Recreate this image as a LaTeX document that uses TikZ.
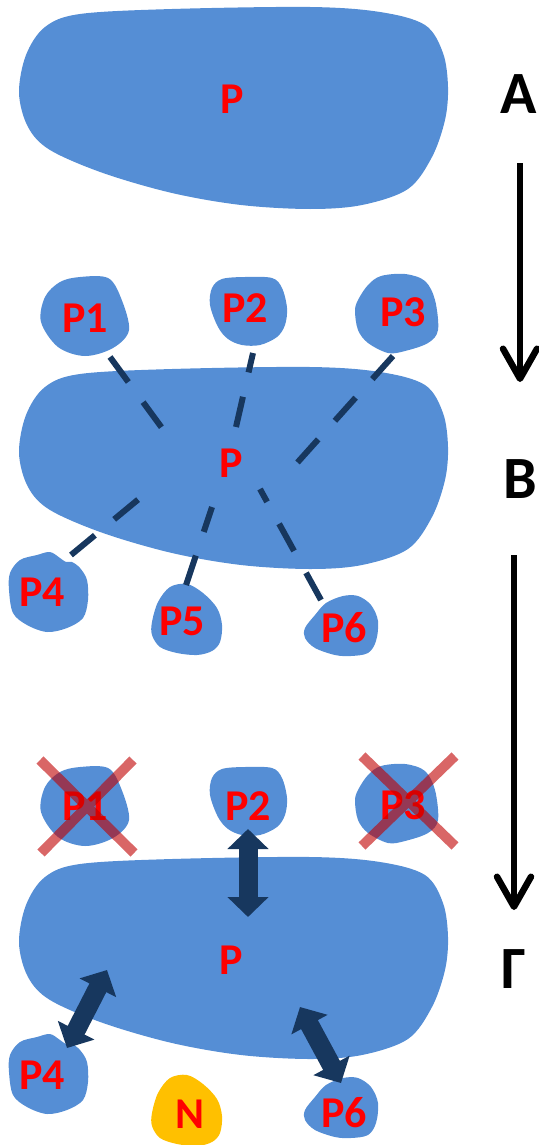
\documentclass[tikz,border=0pt]{standalone}
\usepackage{fontspec}
\setmainfont{Carlito}
\usetikzlibrary{arrows.meta}

\definecolor{blobblue}{RGB}{85,142,213}
\definecolor{navy}{RGB}{23,55,94}
\definecolor{amber}{RGB}{255,192,0}
\definecolor{labelred}{RGB}{255,0,0}
\definecolor{crossred}{RGB}{192,0,0}

\tikzset{
  blobfill/.style={fill=blobblue},
  smoothblob/.style={smooth cycle, tension=0.55},
  lbl/.style={text=labelred, font=\bfseries\fontsize{44}{44}\selectfont, inner sep=0pt},
  stagelbl/.style={text=black, font=\bfseries\fontsize{60}{60}\selectfont, inner sep=0pt},
  stagearrow/.style={line width=6.5pt, -{Straight Barb[length=30pt,width=34pt,round]}},
  link/.style={draw=navy, line width=6pt, dash pattern=on 31pt off 25pt},
  bond/.style={draw=navy, line width=19pt,
    {Triangle[length=20pt,width=40pt]}-{Triangle[length=20pt,width=40pt]}},
  xmark/.style={draw=crossred, draw opacity=0.6, line width=10pt},
  % cell body
  bigblob/.pic={\fill[blobfill] plot[smoothblob] coordinates {
    (19,93) (26,55) (45,27) (80,14) (172,9) (310,7) (380,12) (425,25)
    (443,53) (448,87) (445,120) (432,157) (408,189) (362,205) (310,209)
    (241,205) (172,193) (103,173) (50,150) (28,127)};},
  % small particles
  blobone/.pic={\fill[blobfill] plot[smoothblob] coordinates {
    (60,282) (80,277) (108,278) (121,298) (129,330) (113,348) (85,356)
    (58,347) (41,322) (45,297)};},
  blobtwo/.pic={\fill[blobfill] plot[smoothblob] coordinates {
    (222,279) (245,277) (272,278) (282,288) (287,308) (285,325) (277,337)
    (260,345) (242,345) (228,339) (218,327) (210,305) (212,288)};},
  blobthree/.pic={\fill[blobfill] plot[smoothblob] coordinates {
    (381,276) (405,274) (425,281) (435,300) (438,330) (428,343) (405,351)
    (388,353) (368,343) (358,330) (355,311) (358,300) (368,285)};},
  blobfour/.pic={\fill[blobfill] plot[smoothblob] coordinates {
    (20,560) (37,555) (50,552) (60,558) (66,562) (72,562) (80,568)
    (87,580) (88,600) (83,618) (67,628) (47,632) (27,625) (13,613)
    (9,590) (10,573)};},
  blobfive/.pic={\fill[fill=#1] plot[smoothblob] coordinates {
    (170,587) (187,584) (203,593) (217,608) (222,625) (220,642) (212,651)
    (197,655) (177,653) (160,647) (152,635) (152,622) (158,602)};},
  blobsix/.pic={\fill[blobfill] plot[smoothblob] coordinates {
    (343,596) (358,596) (371,605) (378,621) (376,641) (368,653) (351,656)
    (335,655) (315,648) (305,638) (305,628) (315,615) (326,603)};},
}

\begin{document}
\begin{tikzpicture}[x=1pt, y=-1pt]
\useasboundingbox (0,0) rectangle (538,1145);

% ---------- stage A ----------
\pic at (0,0) {bigblob};
\node[lbl] (pA) at (232,99) {P};
\node[stagelbl] (lA) at (519,94) {A};

% ---------- stage B ----------
\pic at (0,360) {bigblob};
\pic at (0,0) {blobone};
\pic at (0,0) {blobtwo};
\pic at (0,0) {blobthree};
\pic at (0,0) {blobfour};
\pic at (0,0) {blobfive=blobblue};
\pic at (0,0) {blobsix};

\node[lbl] (pB)  at (231,463) {P};
\node[lbl] (b1)  at (85,318)  {P1};
\node[lbl] (b2)  at (245,308) {P2};
\node[lbl] (b3)  at (403,312) {P3};
\node[lbl] (b4)  at (42,592)  {P4};
\node[lbl] (b5)  at (182,621) {P5};
\node[lbl] (b6)  at (344,628) {P6};
\node[stagelbl] (lB) at (520,479) {B};

% ends of the contact lines
\coordinate (c1o) at (110,357); \coordinate (c1i) at (162,428);
\coordinate (c2o) at (253,353); \coordinate (c2i) at (236,427);
\coordinate (c3o) at (393,356); \coordinate (c3i) at (297,463);
\coordinate (c4o) at (71,555);  \coordinate (c4i) at (140,498);
\coordinate (c5o) at (186,585); \coordinate (c5i) at (212,507);
\coordinate (c6o) at (321,600); \coordinate (c6i) at (260,489);

\draw[link] (c1o) -- (c1i);
\draw[link] (c2i) -- (c2o);
\draw[link] (c3o) -- (c3i);
\draw[link] (c4o) -- (c4i);
\draw[link] (c5o) -- (c5i);
\draw[link] (c6o) -- (c6i);

% ---------- stage G ----------
\pic at (0,850) {bigblob};
\pic at (0,490) {blobone};
\pic at (0,490) {blobtwo};
\pic at (0,490) {blobthree};
\pic at (0,482) {blobfour};
\pic at (0,491) {blobfive=amber};
\pic at (0,482) {blobsix};

\node[lbl] (pG)  at (231,960)  {P};
\node[lbl] (g1)  at (85,806)   {P1};
\node[lbl] (g2)  at (248,806)  {P2};
\node[lbl] (g3)  at (403,805)  {P3};
\node[lbl] (g4)  at (42,1075)  {P4};
\node[lbl] (gN)  at (190,1114) {N};
\node[lbl] (g6)  at (344,1113) {P6};
\node[stagelbl] (lG) at (514,969) {Γ};

% lost particles
\coordinate (x1a) at (40,760);  \coordinate (x1b) at (134,853);
\coordinate (x1c) at (133,760); \coordinate (x1d) at (41,853);
\coordinate (x3a) at (362,756); \coordinate (x3b) at (455,846);
\coordinate (x3c) at (455,756); \coordinate (x3d) at (362,846);
\draw[xmark] (x1a) -- (x1b) (x1c) -- (x1d);
\draw[xmark] (x3a) -- (x3b) (x3c) -- (x3d);

% two-way bonds
\coordinate (d2o) at (248,829);  \coordinate (d2i) at (248,917);
\coordinate (d4o) at (67,1048);  \coordinate (d4i) at (107,970);
\coordinate (d6o) at (341,1083); \coordinate (d6i) at (300,1007);
\draw[bond] (d2o) -- (d2i);
\draw[bond] (d4o) -- (d4i);
\draw[bond] (d6o) -- (d6i);

% ---------- stage arrows ----------
\coordinate (s1a) at (520,163); \coordinate (s1b) at (520,382);
\coordinate (s2a) at (514,555); \coordinate (s2b) at (514,910);
\draw[stagearrow] (s1a) -- (s1b);
\draw[stagearrow] (s2a) -- (s2b);
\end{tikzpicture}
\end{document}
